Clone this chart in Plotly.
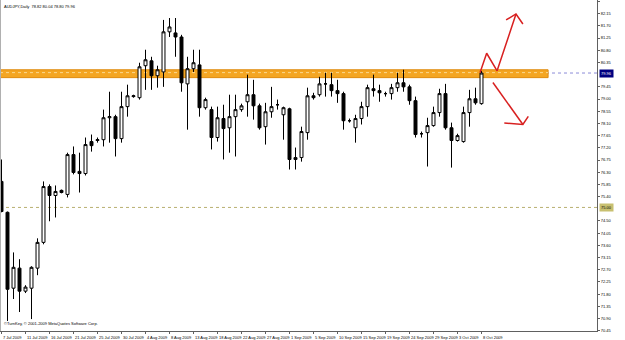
import plotly.graph_objects as go
import pandas as pd

# ---- data (AUDJPY daily, 7 Jul 2009 - 8 Oct 2009, Mon-Sat bars) ----
dates = [d for d in pd.date_range("2009-07-07", "2009-10-08") if d.weekday() != 6]
bars = list(range(len(dates)))

opens = [75.96, 74.82, 72.02, 72.76, 71.91, 72.02, 72.76, 73.71, 75.77, 75.44,
         75.63, 75.48, 76.95, 76.33, 76.25, 77.43, 77.47, 77.50, 78.31, 78.35,
         77.54, 78.72, 79.09, 79.05, 80.23, 80.41, 79.86, 80.00, 81.48, 81.44,
         81.29, 79.56, 80.12, 80.26, 78.68, 78.61, 77.58, 78.28, 77.94, 78.35,
         78.61, 78.90, 79.16, 78.75, 77.98, 78.53, 78.79, 78.42, 78.64, 76.77,
         76.84, 77.76, 79.12, 79.16, 79.56, 79.53, 79.31, 79.20, 78.20, 77.94,
         78.28, 78.72, 79.38, 79.31, 79.20, 79.20, 79.42, 79.60, 79.45, 78.94,
         77.72, 77.76, 78.02, 78.50, 79.20, 77.94, 77.47, 77.43, 78.50, 79.01,
         78.83]
highs = [76.77, 74.85, 73.34, 73.09, 72.13, 72.83, 73.86, 75.96, 75.85, 75.81,
         75.66, 77.02, 77.25, 77.02, 77.58, 77.69, 77.58, 78.61, 79.27, 78.42,
         79.27, 79.53, 79.16, 80.34, 80.82, 80.56, 80.23, 81.92, 81.99, 81.99,
         81.37, 80.56, 80.82, 80.82, 79.05, 78.72, 78.72, 78.79, 79.16, 79.16,
         78.83, 79.90, 79.71, 78.83, 78.86, 79.45, 78.98, 78.72, 78.68, 77.21,
         77.98, 79.42, 79.23, 79.82, 79.97, 79.97, 79.71, 79.27, 78.28, 78.42,
         78.90, 79.53, 79.90, 79.53, 79.27, 79.56, 79.97, 80.08, 79.53, 79.09,
         77.80, 78.31, 78.72, 79.38, 79.56, 78.13, 77.72, 78.72, 79.34, 79.42,
         80.04]
lows = [74.82, 70.81, 71.62, 71.14, 71.84, 70.88, 72.50, 73.64, 74.49, 74.63,
        75.52, 75.37, 76.22, 75.55, 76.18, 77.06, 77.39, 77.25, 77.39, 76.88,
        77.39, 78.35, 79.05, 78.98, 79.34, 79.34, 79.42, 79.45, 81.29, 80.56,
        79.27, 77.87, 80.00, 78.35, 78.61, 77.14, 77.43, 76.77, 77.02, 76.88,
        78.53, 78.35, 78.24, 77.87, 77.32, 78.31, 78.61, 77.50, 76.40, 76.40,
        76.69, 77.50, 78.98, 79.09, 79.09, 79.09, 78.86, 77.87, 78.13, 77.39,
        78.06, 78.35, 79.09, 78.90, 79.09, 78.98, 79.27, 79.27, 78.79, 77.58,
        77.58, 76.51, 77.98, 78.35, 77.87, 76.47, 77.43, 77.39, 77.98, 78.79,
        78.79]
closes = [74.85, 71.98, 72.79, 71.91, 72.06, 72.79, 73.71, 75.77, 75.44, 75.59,
          75.55, 76.95, 76.29, 76.25, 77.32, 77.28, 77.50, 78.31, 78.35, 77.54,
          78.72, 79.12, 79.12, 80.19, 80.45, 79.86, 80.08, 81.48, 81.66, 81.29,
          79.60, 80.12, 80.34, 78.68, 78.98, 77.58, 78.31, 77.91, 78.35, 78.61,
          78.75, 79.16, 78.75, 77.94, 78.53, 78.72, 78.79, 78.68, 76.77, 76.84,
          77.80, 79.12, 79.05, 79.56, 79.56, 79.31, 79.20, 78.20, 78.20, 78.28,
          78.72, 79.42, 79.31, 79.23, 79.20, 79.42, 79.60, 79.45, 78.94, 77.69,
          77.72, 78.02, 78.50, 79.20, 77.94, 77.47, 77.65, 78.50, 79.01, 78.86,
          79.96]

symbol_text = "AUDJPY,Daily  78.82 80.04 78.80 79.96"
copyright_text = "©TurnKey, © 2001-2009 MetaQuotes Software Corp."

# resistance zone and levels
zone_low, zone_high = 79.79, 80.08
zone_end_bar = 91.1
bid_price = 79.96
dotted_level = 75.00

# price axis labels
price_ticks = [82.60, 82.15, 81.70, 81.25, 80.80, 80.35, 79.45, 79.00, 78.55,
               78.10, 77.65, 77.20, 76.75, 76.30, 75.85, 75.40, 74.50, 74.05,
               73.60, 73.15, 72.70, 72.25, 71.80, 71.35, 70.90, 70.45]
date_tick_bars = list(range(0, len(dates), 4))
date_tick_text = [dates[i].strftime("%-d %b %Y") for i in date_tick_bars]

# drawn arrows (bar index, price)
up_path_x = [79.75, 80.86, 82.6, 85.75]
up_path_y = [79.97, 80.69, 80.04, 82.14]
up_head_x = [84.1, 85.75, 86.9]
up_head_y = [81.92, 82.14, 81.77]
dn_path_x = [81.9, 86.9]
dn_path_y = [79.61, 78.06]
dn_head_x = [83.8, 86.9, 87.8]
dn_head_y = [78.12, 78.06, 78.36]

X_RANGE = [-0.25, 99.25]
Y_RANGE = [70.44, 82.655]
FONT = "Liberation Sans"
FS = 4

fig = go.Figure()

# bid line (behind band)
fig.add_shape(type="line", xref="x", yref="y", x0=X_RANGE[0], x1=X_RANGE[1],
              y0=bid_price, y1=bid_price, line=dict(color="#8C8CD8", width=1, dash="dot"),
              layer="below")
# dotted level
fig.add_shape(type="line", xref="x", yref="y", x0=X_RANGE[0], x1=X_RANGE[1],
              y0=dotted_level, y1=dotted_level, line=dict(color="#B8B070", width=1, dash="dot"),
              layer="below")
# orange zone
fig.add_shape(type="rect", xref="x", yref="y", x0=X_RANGE[0], x1=zone_end_bar,
              y0=zone_low, y1=zone_high, fillcolor="#F4A623",
              line=dict(color="#E08C10", width=1), layer="below")
fig.add_shape(type="line", xref="x", yref="y", x0=X_RANGE[0], x1=zone_end_bar,
              y0=(zone_low + zone_high) / 2 + 0.04, y1=(zone_low + zone_high) / 2 + 0.04,
              line=dict(color="#FAD890", width=1, dash="dot"), layer="below")

fig.add_trace(go.Candlestick(
    x=bars, open=opens, high=highs, low=lows, close=closes,
    increasing=dict(fillcolor="#FFFFFF", line=dict(color="#000000", width=1)),
    decreasing=dict(fillcolor="#000000", line=dict(color="#000000", width=1)),
    whiskerwidth=0, showlegend=False, hoverinfo="skip",
))

red = "#D82020"
for xs, ys in [(up_path_x, up_path_y), (up_head_x, up_head_y),
               (dn_path_x, dn_path_y), (dn_head_x, dn_head_y)]:
    fig.add_trace(go.Scatter(x=xs, y=ys, mode="lines", line=dict(color=red, width=1.5),
                             showlegend=False, hoverinfo="skip"))

annotations = []
for b, t in zip(date_tick_bars, date_tick_text):
    annotations.append(dict(x=b, y=0, xref="x", yref="paper", yanchor="top", xanchor="left",
                            text=t, showarrow=False, xshift=-1, yshift=-2,
                            font=dict(family=FONT, size=FS, color="#000000")))
annotations.append(dict(x=0.004, y=0.995, xref="paper", yref="paper", xanchor="left",
                        yanchor="top", text=symbol_text, showarrow=False,
                        font=dict(family=FONT, size=FS, color="#000000")))
annotations.append(dict(x=0.004, y=0.01, xref="paper", yref="paper", xanchor="left",
                        yanchor="bottom", text=copyright_text, showarrow=False,
                        font=dict(family=FONT, size=FS, color="#000000")))
annotations.append(dict(x=1, y=bid_price, xref="paper", yref="y", xanchor="left",
                        yanchor="middle", text="%.2f" % bid_price, showarrow=False,
                        xshift=2, bgcolor="#000080", borderpad=1,
                        font=dict(family=FONT, size=FS, color="#FFFFFF")))
annotations.append(dict(x=1, y=dotted_level, xref="paper", yref="y", xanchor="left",
                        yanchor="middle", text="%.2f" % dotted_level, showarrow=False,
                        xshift=2, bgcolor="#C8C070", borderpad=1,
                        font=dict(family=FONT, size=FS, color="#000000")))

fig.update_layout(
    width=625, height=340,
    margin=dict(l=0, r=28, t=0, b=9),
    paper_bgcolor="#FFFFFF", plot_bgcolor="#FFFFFF",
    annotations=annotations,
    xaxis=dict(range=X_RANGE, showgrid=False, zeroline=False, showline=True,
               linecolor="#606060", linewidth=1, showticklabels=False,
               tickvals=date_tick_bars, ticks="outside", ticklen=2, tickcolor="#606060",
               rangeslider=dict(visible=False), fixedrange=True),
    yaxis=dict(range=Y_RANGE, side="right", showgrid=False, zeroline=False, showline=True,
               linecolor="#606060", linewidth=1, tickvals=price_ticks,
               ticktext=["%.2f" % v for v in price_ticks], ticks="outside", ticklen=2,
               tickcolor="#606060", tickfont=dict(family=FONT, size=FS, color="#000000"),
               fixedrange=True),
)
fig.add_shape(type="line", xref="paper", yref="paper", x0=0, x1=0, y0=0, y1=1,
              line=dict(color="#B0B0B0", width=2))

fig.write_html("out.html")
